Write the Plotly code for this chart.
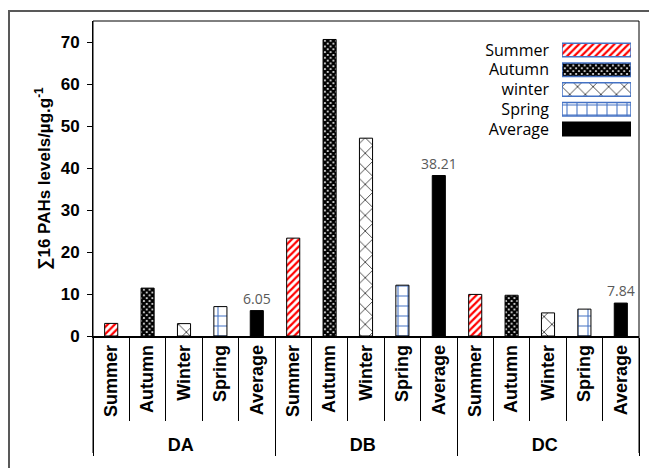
import plotly.graph_objects as go

sites = ["DA", "DB", "DC"]
seasons = ["Summer", "Autumn", "Winter", "Spring", "Average"]
legend_names = ["Summer", "Autumn", "winter", "Spring", "Average"]
summer = [3.0, 23.3, 9.9]
autumn = [11.4, 70.6, 9.7]
winter = [2.95, 47.1, 5.5]
spring = [7.0, 12.1, 6.4]
average = [6.05, 38.21, 7.84]
average_labels = ["6.05", "38.21", "7.84"]
y_ticks = [0, 10, 20, 30, 40, 50, 60, 70]

series_values = [summer, autumn, winter, spring, average]
styles = [
    dict(shape="/", fgcolor="#FF0000", bgcolor="white", size=5, solidity=0.45),
    dict(shape="x", fgcolor="black", bgcolor="white", size=4, solidity=0.8),
    dict(shape="x", fgcolor="black", bgcolor="white", size=11, solidity=0.12),
    dict(shape="+", fgcolor="#4472C4", bgcolor="white", size=10, solidity=0.2),
    dict(shape="", fgcolor="black", bgcolor="black"),
]

# The page body adds an 8px offset; the figure is sized to fill the rest.
W, H = 649, 460
ML, MR, MT, MB = 85, 18, 13, 132
PW, PH = W - ML - MR, H - MT - MB

fig = go.Figure()
for i, (name, vals) in enumerate(zip(seasons, series_values)):
    is_avg = name == "Average"
    fig.add_trace(go.Bar(
        x=[sites, [name] * len(sites)],
        y=vals,
        width=0.36,
        marker=dict(color="black" if is_avg else "white",
                    pattern=styles[i],
                    line=dict(color="black", width=1)),
        text=average_labels if is_avg else None,
        textposition="outside" if is_avg else "none",
        constraintext="none",
        textfont=dict(family="Open Sans", size=14, color="#595959"),
        cliponaxis=False,
        showlegend=False,
    ))

# legend swatches drawn as bars on a small helper axis
for i, lname in enumerate(legend_names):
    is_avg = lname == "Average"
    fig.add_trace(go.Bar(
        x=[1], y=[lname], orientation="h",
        xaxis="x2", yaxis="y2", width=0.68,
        marker=dict(color="black" if is_avg else "white",
                    pattern=styles[i],
                    line=dict(color="black" if is_avg else "#4472C4", width=1.5)),
        showlegend=False, hoverinfo="skip",
    ))

fig.update_layout(
    template="none",
    width=W, height=H,
    margin=dict(l=ML, r=MR, t=MT, b=MB),
    paper_bgcolor="white", plot_bgcolor="white",
    barmode="overlay",
    font=dict(family="Liberation Sans", color="black"),
    xaxis=dict(
        type="multicategory", automargin=False,
        showline=True, linecolor="black", linewidth=1.5,
        tickangle=-90,
        tickfont=dict(family="Liberation Sans", size=18, weight="bold", color="black"),
        ticks="outside", tickson="boundaries", ticklen=83, tickcolor="black", tickwidth=1,
        showdividers=True, dividercolor="black", dividerwidth=1,
        showgrid=False, zeroline=False,
    ),
    yaxis=dict(
        range=[0, 75], tickvals=y_ticks, automargin=False,
        showline=True, linecolor="black", linewidth=1,
        ticks="outside", ticklen=5, tickcolor="black",
        ticklabelstandoff=4,
        tickfont=dict(family="Liberation Sans", size=17, weight="bold", color="black"),
        showgrid=False, zeroline=False,
        title=dict(text="∑16 PAHs levels/µg.g<sup>-1</sup>",
                   font=dict(family="Liberation Sans", size=17, weight="bold", color="black"),
                   standoff=5),
    ),
    xaxis2=dict(domain=[(562 - 93) / 546, (631 - 93) / 546], range=[0, 1], anchor="y2",
                visible=False, fixedrange=True, automargin=False),
    yaxis2=dict(domain=[(336 - 139) / 315, (336 - 40) / 315], anchor="x2", autorange="reversed",
                automargin=False,
                tickmode="array", tickvals=legend_names,
                showline=False, showgrid=False, zeroline=False, ticks="",
                ticklabelstandoff=12,
                tickfont=dict(family="Open Sans", size=16, color="black")),
    shapes=[
        dict(type="path", xref="paper", yref="paper",
             path=f"M 0,{-(453 - 336) / PH} L 0,1 L 1,1 L 1,{-(453 - 336) / PH}",
             line=dict(color="black", width=1)),
        dict(type="rect", xref="paper", yref="paper",
             x0=(1 - ML) / PW, x1=1.2, y0=-0.6, y1=(PH + MT - 3) / PH,
             line=dict(color="#595959", width=2), fillcolor="rgba(0,0,0,0)"),
    ],
)

fig.write_html("out.html")
